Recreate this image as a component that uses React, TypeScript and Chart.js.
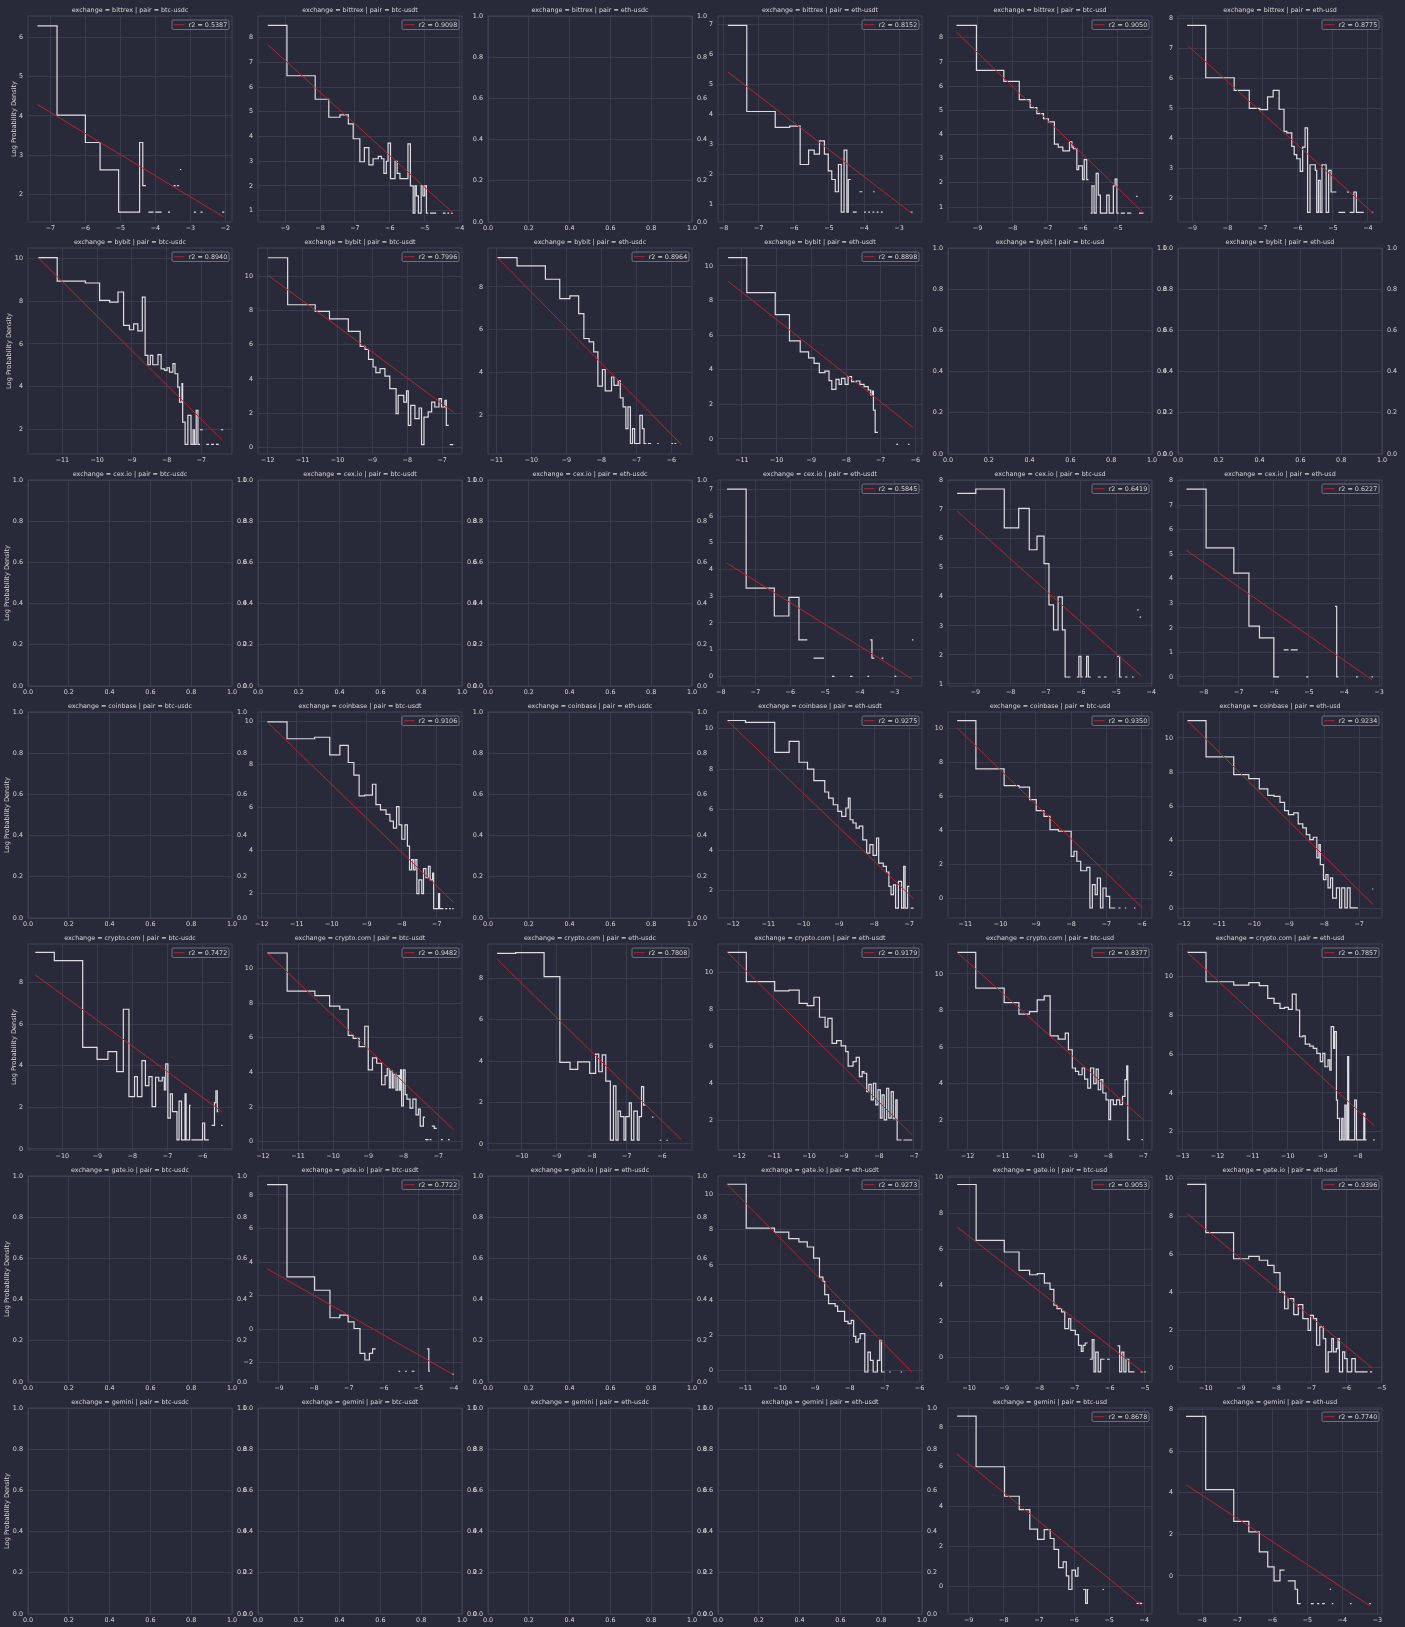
import React, { useEffect, useRef } from "react";
import { Chart, registerables } from "chart.js";

Chart.register(...registerables);

// ---------------- categories ----------------
const EXCHANGES = ["bittrex", "bybit", "cex.io", "coinbase", "crypto.com", "gate.io", "gemini"];
const PAIRS = ["btc-usdc", "btc-usdt", "eth-usdc", "eth-usdt", "btc-usd", "eth-usd"];
const EMPTY_TICKS = [0, 0.2, 0.4, 0.6, 0.8, 1.0];
const Y_LABEL = "Log Probability Density";

// ---------------- step histograms: runs of [x0, y0, x1, y1, ..., xEnd] ----------------
// fit lines: [x1, y1, x2, y2]
const BITTREX_BTC_USDC = [
  [-7.37, 6.3, -6.81, 4.02, -6.0, 3.32, -5.58, 2.62, -5.05, 1.54, -4.45, 3.32, -4.36, 2.22, -4.27],
  [-4.2, 1.54, -4.05], [-4.0, 1.54, -3.82], [-3.64, 1.54, -3.58], [-3.48, 2.22, -3.42],
  [-3.38, 2.22, -3.32], [-3.3, 2.63, -3.26], [-2.9, 1.54, -2.84], [-2.71, 1.54, -2.65], [-2.09, 1.54, -2.03],
];
const BITTREX_BTC_USDC_FIT = [-7.37, 4.29, -2.05, 1.42];

const BITTREX_BTC_USDT = [
  [-9.5, 8.5, -8.95, 6.46, -8.14, 5.51, -7.75, 4.78, -7.43, 4.88, -7.19, 4.51, -7.05, 3.91, -6.86, 2.98,
   -6.73, 3.55, -6.6, 2.85, -6.48, 3.1, -6.33, 3.2, -6.24, 3.1, -6.17, 2.51, -6.1, 3.0, -6.05, 3.73,
   -5.98, 2.3, -5.85, 3.0, -5.79, 2.51, -5.71, 2.3, -5.48, 3.7, -5.41, 2.0, -5.33, 0.9, -5.28, 2.0,
   -5.24, 1.6, -5.18, 0.9, -5.1, 2.0, -5.05, 1.6, -5.0, 2.0, -4.95, 0.9, -4.9],
  [-4.85, 0.9, -4.67], [-4.48, 0.9, -4.4], [-4.35, 0.9, -4.3], [-4.24, 0.9, -4.19],
];
const BITTREX_BTC_USDT_FIT = [-9.5, 7.72, -4.19, 0.91];

const BITTREX_ETH_USDT = [
  [-7.88, 6.97, -7.34, 4.09, -6.53, 3.56, -6.12, 3.6, -5.82, 2.32, -5.58, 2.8, -5.42, 2.67, -5.27, 3.11,
   -5.13, 2.67, -5.02, 2.11, -4.92, 1.82, -4.82, 1.41, -4.73, 2.32, -4.65, 0.73, -4.57, 2.8, -4.49, 0.73,
   -4.45, 1.82, -4.38],
  [-4.32, 0.73, -4.21], [-4.13, 1.41, -4.05], [-4.0, 0.73, -3.95], [-3.88, 0.73, -3.83],
  [-3.76, 0.73, -3.71], [-3.74, 1.41, -3.7], [-3.64, 0.73, -3.59], [-3.52, 0.73, -3.47], [-2.67, 0.73, -2.62],
];
const BITTREX_ETH_USDT_FIT = [-7.88, 5.41, -2.62, 0.67];

const BITTREX_BTC_USD = [
  [-9.6, 8.51, -9.03, 6.65, -8.25, 6.2, -7.81, 5.44, -7.5, 5.11, -7.31, 4.86, -7.12, 4.65, -6.98, 4.52,
   -6.81, 3.6, -6.7, 3.48, -6.57, 3.32, -6.38, 3.7, -6.31, 3.48, -6.27, 3.41, -6.17, 2.55, -6.12, 2.7,
   -6.01, 2.13, -5.96, 2.96, -5.89, 2.13, -5.84],
  [-5.78, 0.75, -5.74, 1.87, -5.68, 0.75, -5.62, 2.39, -5.56, 1.49, -5.5, 0.75, -5.32, 1.49, -5.25, 0.75,
   -5.13, 1.87, -5.08, 2.15, -5.03, 0.75, -4.98],
  [-4.92, 0.75, -4.8], [-4.74, 0.75, -4.62], [-4.48, 1.44, -4.44], [-4.4, 0.75, -4.27],
];
const BITTREX_BTC_USD_FIT = [-9.6, 8.23, -4.27, 0.75];

const BITTREX_ETH_USD = [
  [-9.15, 7.78, -8.62, 6.03, -7.81, 5.61, -7.38, 5.01, -7.08, 4.97, -6.86, 5.39, -6.7, 5.61, -6.53, 4.98,
   -6.39, 4.24, -6.31, 4.19, -6.17, 3.74, -6.1, 3.47, -6.03, 3.33, -5.93, 2.91, -5.86, 3.72, -5.79, 4.36,
   -5.72, 1.54, -5.65, 3.13, -5.5, 2.94, -5.46, 1.54, -5.41, 2.61, -5.36, 1.54, -5.31, 3.13, -5.19, 1.54,
   -5.12, 2.94, -5.05, 2.22, -4.9],
  [-4.84, 1.54, -4.65], [-4.6, 2.22, -4.54], [-4.52, 1.54, -4.4, 2.22, -4.33, 1.54, -4.12], [-3.89, 1.54, -3.85],
];
const BITTREX_ETH_USD_FIT = [-9.12, 7.09, -3.86, 1.52];

const BYBIT_BTC_USDC = [
  [-11.7, 10.02, -11.15, 8.93, -10.34, 8.84, -9.93, 8.03, -9.64, 7.95, -9.4, 8.42, -9.24, 6.86, -9.07, 6.66,
   -8.95, 6.93, -8.83, 6.61, -8.7, 8.18, -8.62, 5.47, -8.54, 5.03, -8.47, 5.47, -8.4, 5.03, -8.25, 5.5,
   -8.16, 4.84, -8.06, 4.77, -7.99, 4.89, -7.92, 4.69, -7.82, 5.08, -7.76, 4.61, -7.68, 3.99, -7.63, 3.29,
   -7.56, 4.15, -7.54, 2.36, -7.47, 1.32, -7.39, 2.67, -7.3, 1.32, -7.24, 2.0, -7.2, 1.32, -7.15, 2.9,
   -7.1, 1.32, -7.04],
  [-7.04, 2.0, -6.96], [-6.86, 1.32, -6.78], [-6.72, 1.32, -6.64], [-6.58, 1.32, -6.5], [-6.44, 2.0, -6.37],
];
const BYBIT_BTC_USDC_FIT = [-11.7, 10.02, -6.41, 1.54];

const BYBIT_BTC_USDT = [
  [-11.99, 11.09, -11.43, 8.34, -10.64, 7.95, -10.23, 7.52, -9.69, 6.78, -9.35, 5.91, -9.21, 5.73, -9.11, 5.15,
   -8.98, 4.7, -8.9, 4.37, -8.78, 4.6, -8.64, 4.17, -8.5, 3.43, -8.32, 1.97, -8.26, 3.04, -8.1, 2.65,
   -8.02, 3.3, -7.97, 1.29, -7.9, 2.46, -7.78, 1.68, -7.66, 2.3, -7.59, 0.16, -7.52, 1.77, -7.4, 2.07,
   -7.3, 2.65, -7.21, 2.36, -7.09, 2.85, -7.02, 2.36, -6.92, 2.75, -6.88, 1.29, -6.81],
  [-6.78, 0.16, -6.68],
];
const BYBIT_BTC_USDT_FIT = [-11.99, 10.06, -6.68, 2.07];

const BYBIT_ETH_USDC = [
  [-10.97, 9.37, -10.41, 8.98, -9.6, 8.36, -9.19, 7.45, -8.9, 7.58, -8.65, 6.75, -8.5, 5.59, -8.35, 5.43,
   -8.22, 4.96, -8.1, 3.36, -7.97, 4.14, -7.89, 3.14, -7.71, 3.79, -7.64, 3.4, -7.52, 3.61, -7.46, 2.81,
   -7.38, 2.39, -7.3, 1.38, -7.24, 2.39, -7.17, 0.68, -7.11, 1.38, -7.05, 0.68, -6.9, 2.0, -6.83, 1.38,
   -6.78, 0.68, -6.71],
  [-6.67, 0.68, -6.58], [-6.4, 0.68, -6.36], [-6.0, 0.68, -5.95], [-5.91, 0.68, -5.86],
];
const BYBIT_ETH_USDC_FIT = [-10.97, 9.37, -5.71, 0.63];

const BYBIT_ETH_USDT = [
  [-11.4, 10.48, -10.86, 8.46, -10.04, 7.19, -9.63, 5.67, -9.32, 5.04, -9.08, 4.69, -8.92, 4.37, -8.77, 3.83,
   -8.61, 3.92, -8.49, 3.37, -8.41, 2.87, -8.29, 3.44, -8.2, 3.15, -8.13, 3.5, -8.03, 3.15, -7.94, 3.6,
   -7.84, 3.31, -7.7, 3.35, -7.6, 3.15, -7.48, 3.02, -7.36, 2.83, -7.29, 2.54, -7.24, 2.77, -7.21, 1.67,
   -7.16, 0.38, -7.08],
  [-6.55, -0.31, -6.5], [-6.21, -0.31, -6.17],
];
const BYBIT_ETH_USDT_FIT = [-11.4, 9.12, -6.07, 0.67];

const CEXIO_ETH_USDT = [
  [-7.82, 7.01, -7.27, 3.3, -6.46, 2.26, -6.04, 2.96, -5.75, 1.37, -5.51],
  [-5.33, 0.68, -5.03], [-4.8, 0.0, -4.73], [-4.28, 0.0, -4.21], [-3.78, 0.0, -3.73],
  [-3.7, 1.37, -3.65, 0.68, -3.58], [-3.37, 0.68, -3.32], [-3.0, 0.0, -2.95], [-2.5, 1.37, -2.46],
];
const CEXIO_ETH_USDT_FIT = [-7.82, 4.24, -2.5, -0.09];

const CEXIO_BTC_USD = [
  [-9.52, 7.56, -8.99, 7.71, -8.18, 6.37, -7.77, 7.04, -7.47, 5.62, -7.25, 6.09, -7.05, 5.14, -6.91, 3.72,
   -6.78, 2.86, -6.65, 4.0, -6.53, 2.86, -6.45, 1.24, -6.3],
  [-6.12, 1.24, -6.06, 1.95, -6.0, 1.24, -5.95], [-5.88, 1.24, -5.84, 1.95, -5.79, 1.24, -5.72],
  [-5.52, 1.24, -5.44], [-5.35, 1.24, -5.27], [-4.97, 1.95, -4.9, 1.24, -4.84], [-4.74, 1.24, -4.68],
  [-4.55, 1.24, -4.5], [-4.4, 3.55, -4.36], [-4.33, 3.3, -4.29],
];
const CEXIO_BTC_USD_FIT = [-9.52, 6.95, -4.29, 1.28];

const CEXIO_ETH_USD = [
  [-8.49, 7.66, -7.93, 5.26, -7.14, 4.23, -6.71, 2.07, -6.41, 1.59, -6.0, 0.0, -5.85],
  [-5.72, 1.1, -5.58], [-5.52, 1.1, -5.32], [-5.08, 0.0, -5.02], [-4.26, 2.88, -4.21, 0.0, -4.16],
  [-3.66, 0.0, -3.61], [-3.22, 0.0, -3.18],
];
const CEXIO_ETH_USD_FIT = [-8.49, 5.16, -3.2, -0.12];

const COINBASE_BTC_USDT = [
  [-11.85, 9.96, -11.28, 9.18, -10.49, 9.25, -10.06, 8.43, -9.77, 8.87, -9.53, 8.08, -9.37, 7.49, -9.22, 6.53,
   -9.06, 6.57, -8.84, 7.07, -8.74, 6.13, -8.61, 5.88, -8.45, 5.67, -8.34, 5.36, -8.24, 5.04, -8.15, 6.03,
   -8.08, 5.19, -8.0, 4.52, -7.91, 5.19, -7.84, 4.2, -7.78, 3.1, -7.72, 3.58, -7.67, 3.1, -7.62, 3.58,
   -7.57, 2.0, -7.51, 2.64, -7.43, 2.0, -7.38, 3.16, -7.31, 2.74, -7.24, 3.26, -7.19, 2.64, -7.12, 2.95,
   -7.09, 1.3, -6.95, 2.0, -6.92, 1.3, -6.81],
  [-6.76, 1.3, -6.7], [-6.65, 1.3, -6.6], [-6.56, 1.3, -6.52],
];
const COINBASE_BTC_USDT_FIT = [-11.85, 9.96, -6.52, 1.59];

const COINBASE_ETH_USDT = [
  [-12.17, 10.4, -11.65, 10.31, -10.82, 8.83, -10.41, 9.37, -10.13, 8.34, -9.89, 8.0, -9.71, 7.43, -9.4, 6.87,
   -9.29, 6.57, -9.16, 6.24, -9.03, 5.91, -8.92, 5.67, -8.8, 6.08, -8.73, 6.57, -8.68, 5.5, -8.6, 5.34,
   -8.51, 5.09, -8.42, 5.19, -8.32, 4.51, -8.21, 3.85, -8.12, 4.27, -8.03, 3.74, -7.93, 4.6, -7.87, 3.36,
   -7.74, 3.2, -7.65, 2.92, -7.58, 2.21, -7.52, 1.8, -7.45, 2.29, -7.39, 1.14, -7.31, 2.46, -7.22, 1.14,
   -7.16, 3.2, -7.12, 1.14, -7.05, 2.21, -7.0],
  [-6.96, 1.14, -6.88],
];
const COINBASE_ETH_USDT_FIT = [-12.17, 10.4, -6.88, 1.6];

const COINBASE_BTC_USD = [
  [-11.23, 10.47, -10.7, 7.62, -9.9, 6.63, -9.48, 6.54, -9.18, 5.81, -8.99, 5.16, -8.77, 4.82, -8.6, 4.04,
   -8.36, 3.94, -8.0, 2.46, -7.92, 2.76, -7.84, 2.17, -7.73, 1.61, -7.56, 1.81, -7.47, -0.59, -7.4, 0.79,
   -7.32, 0.2, -7.26, 1.18, -7.17, -0.59, -7.1, 0.59, -7.01, 0.1, -6.91, -0.59, -6.75],
  [-6.66, -0.59, -6.6], [-6.48, -0.59, -6.44], [-6.22, -0.59, -6.18],
];
const COINBASE_BTC_USD_FIT = [-11.23, 10.04, -5.98, -0.59];

const COINBASE_ETH_USD = [
  [-11.91, 11.02, -11.37, 8.89, -10.58, 7.85, -10.15, 7.62, -9.85, 7.01, -9.61, 6.64, -9.43, 6.58, -9.26, 6.23,
   -9.13, 5.74, -9.02, 5.51, -8.87, 5.61, -8.74, 4.96, -8.61, 4.73, -8.51, 4.34, -8.41, 4.04, -8.31, 4.18,
   -8.21, 2.97, -8.15, 3.75, -8.11, 2.58, -8.02, 1.7, -7.95, 1.99, -7.89, 1.21, -7.82, 1.8, -7.76, 0.62,
   -7.65, 1.21, -7.56, 0.04, -7.5, 1.21, -7.41, 0.04, -7.34, 1.21, -7.26, 0.04, -7.04],
  [-6.63, 1.15, -6.6],
];
const COINBASE_ETH_USD_FIT = [-11.91, 11.02, -6.6, 0.23];

const CRYPTO_BTC_USDC = [
  [-10.77, 9.46, -10.23, 9.06, -9.42, 4.89, -9.01, 4.31, -8.7, 4.68, -8.45, 3.72, -8.26, 6.72, -8.1, 2.52,
   -7.94, 3.48, -7.86, 2.52, -7.73, 4.25, -7.63, 3.05, -7.53, 3.48, -7.44, 2.04, -7.34, 3.45, -7.25, 3.27,
   -7.15, 3.45, -7.09, 2.84, -7.05, 4.09, -6.99, 1.48, -6.92, 2.65, -6.86, 1.8, -6.73, 0.44, -6.67, 2.3,
   -6.6, 0.44, -6.5, 2.65, -6.47, 0.44, -6.37, 2.1, -6.34],
  [-6.32, 0.44, -6.0, 1.25, -5.94, 0.44, -5.82],
  [-5.74, 1.13, -5.66, 2.23, -5.62, 2.8, -5.58, 1.8, -5.55], [-5.47, 1.13, -5.43],
];
const CRYPTO_BTC_USDC_FIT = [-10.77, 8.37, -5.45, 1.8];

const CRYPTO_BTC_USDT = [
  [-11.88, 10.88, -11.31, 8.68, -10.52, 8.42, -10.1, 7.82, -9.81, 7.64, -9.57, 6.14, -9.43, 5.96, -9.26, 5.49,
   -9.1, 6.66, -9.0, 4.15, -8.88, 4.84, -8.76, 4.53, -8.62, 3.29, -8.52, 3.81, -8.46, 4.22, -8.4, 3.11,
   -8.36, 4.07, -8.31, 3.11, -8.27, 3.89, -8.21, 2.98, -8.16, 3.81, -8.11, 2.98, -8.08, 4.15, -8.05, 2.07,
   -8.0, 4.15, -7.95, 2.72, -7.9, 2.46, -7.81, 1.94, -7.73, 2.46, -7.64, 1.55, -7.57, 1.89, -7.52, 0.91,
   -7.43, 1.42, -7.38],
  [-7.38, 0.13, -7.28], [-7.25, 0.13, -7.2], [-7.19, 0.91, -7.12, 0.78, -7.05], [-6.93, 0.13, -6.88],
  [-6.73, 0.13, -6.68],
];
const CRYPTO_BTC_USDT_FIT = [-11.88, 10.88, -6.57, 0.7];

const CRYPTO_ETH_USDC = [
  [-10.7, 9.21, -10.17, 9.24, -9.36, 8.08, -8.91, 3.94, -8.62, 3.6, -8.4, 3.97, -8.06, 3.41, -7.89, 4.34,
   -7.8, 3.49, -7.7, 4.3, -7.6, 3.04, -7.47, 0.19, -7.38, 2.81, -7.31, 0.19, -7.25, 1.59, -7.18, 1.32,
   -7.08, 0.19, -7.03, 1.32, -6.93, 1.99, -6.87, 0.19, -6.8, 1.59, -6.7, 0.19, -6.65, 1.32, -6.58, 2.77,
   -6.52, 1.88, -6.47],
  [-6.28, 1.3, -6.24], [-6.06, 0.18, -6.02], [-5.87, 0.18, -5.83],
];
const CRYPTO_ETH_USDC_FIT = [-10.7, 8.92, -5.45, 0.22];

const CRYPTO_ETH_USDT = [
  [-12.33, 11.1, -11.79, 9.51, -10.98, 9.01, -10.57, 9.06, -10.28, 8.34, -10.05, 8.22, -9.86, 8.67, -9.7, 7.59,
   -9.54, 7.05, -9.46, 7.53, -9.34, 6.18, -9.21, 6.32, -9.08, 6.04, -8.95, 5.73, -8.88, 4.95, -8.74, 5.19,
   -8.65, 5.42, -8.56, 4.38, -8.48, 4.65, -8.43, 4.56, -8.35, 3.57, -8.29, 3.96, -8.22, 3.12, -8.16, 4.02,
   -8.09, 2.85, -8.03, 3.66, -7.96, 2.13, -7.91, 3.39, -7.85, 2.04, -7.78, 3.75, -7.72, 2.13, -7.65, 3.57,
   -7.59, 2.1, -7.52, 3.12, -7.48, 0.95, -7.35],
  [-7.3, 0.95, -7.05],
];
const CRYPTO_ETH_USDT_FIT = [-12.33, 11.1, -7.05, 1.23];

const CRYPTO_BTC_USD = [
  [-12.3, 11.18, -11.77, 9.22, -10.96, 8.43, -10.54, 7.8, -10.24, 7.94, -10.02, 8.58, -9.82, 8.8, -9.65, 6.61,
   -9.42, 6.43, -9.22, 6.76, -9.13, 5.85, -9.02, 4.85, -8.93, 4.66, -8.84, 4.48, -8.74, 4.85, -8.67, 4.24,
   -8.58, 3.75, -8.5, 4.85, -8.41, 3.99, -8.34, 4.79, -8.28, 3.66, -8.21, 4.21, -8.15, 3.48, -8.06, 3.11,
   -7.98, 2.02, -7.93, 3.11, -7.85, 2.84, -7.76, 3.11, -7.67, 2.84, -7.59, 3.3, -7.52, 4.21, -7.47, 4.97,
   -7.44, 0.93, -7.37],
  [-7.05, 0.93, -7.01],
];
const CRYPTO_BTC_USD_FIT = [-12.3, 11.18, -7.0, 2.02];

const CRYPTO_ETH_USD = [
  [-12.87, 11.26, -12.33, 9.74, -11.54, 9.57, -11.11, 9.69, -10.81, 9.54, -10.57, 8.88, -10.39, 8.62, -10.22, 8.36,
   -10.09, 8.42, -9.98, 8.31, -9.87, 9.1, -9.76, 8.28, -9.66, 6.9, -9.57, 6.94, -9.5, 6.52, -9.37, 6.42,
   -9.27, 6.3, -9.17, 6.04, -9.07, 5.61, -9.0, 6.04, -8.94, 5.35, -8.85, 5.7, -8.8, 5.18, -8.76, 7.42,
   -8.69, 6.3, -8.66, 7.16, -8.61, 3.63, -8.58, 2.68, -8.52, 1.57, -8.46, 2.68, -8.42, 1.57, -8.37, 3.37,
   -8.33, 1.57, -8.29, 5.87, -8.26, 1.57, -8.09, 3.63, -8.04, 1.57, -7.83, 2.94, -7.8, 1.57, -7.75],
  [-7.56, 1.57, -7.52],
];
const CRYPTO_ETH_USD_FIT = [-12.87, 11.26, -7.52, 2.29];

const GATEIO_BTC_USDT = [
  [-9.34, 8.62, -8.77, 3.12, -7.98, 2.32, -7.54, 0.68, -7.26, 0.84, -7.02, 0.44, -6.85, 0.04, -6.68, -1.44,
   -6.54, -1.84, -6.41, -1.44, -6.32, -1.17, -6.23],
  [-5.58, -2.51, -5.53], [-5.39, -2.51, -5.34], [-5.2, -2.51, -5.12], [-4.76, -1.17, -4.71, -2.51, -4.68],
  [-4.04, -2.7, -4.0],
];
const GATEIO_BTC_USDT_FIT = [-9.34, 3.6, -4.02, -2.7];

const GATEIO_ETH_USDT = [
  [-11.52, 10.59, -10.97, 8.1, -10.16, 7.87, -9.75, 7.5, -9.46, 7.31, -9.22, 7.02, -9.04, 6.39, -8.87, 5.31,
   -8.77, 5.07, -8.72, 4.31, -8.61, 3.8, -8.42, 3.66, -8.35, 3.36, -8.15, 2.79, -8.05, 2.66, -7.96, 2.85,
   -7.89, 1.94, -7.83, 1.61, -7.76, 1.8, -7.7, 2.09, -7.57, -0.09, -7.48, 1.04, -7.41, 0.57, -7.33, -0.09,
   -7.21, 0.57, -7.14, 1.71, -7.09, -0.09, -7.0],
  [-6.87, -0.09, -6.83], [-6.54, -0.09, -6.5],
];
const GATEIO_ETH_USDT_FIT = [-11.52, 10.59, -6.22, -0.09];

const GATEIO_BTC_USD = [
  [-10.34, 9.59, -9.8, 6.49, -9.0, 5.85, -8.58, 4.83, -8.28, 4.59, -8.06, 4.65, -7.86, 4.13, -7.7, 3.78,
   -7.59, 2.9, -7.5, 2.71, -7.37, 2.53, -7.28, 1.61, -7.17, 2.16, -7.11, 1.51, -6.98, 1.27, -6.89, 0.68,
   -6.81, 0.35, -6.76, 0.68, -6.7, 0.81, -6.63],
  [-6.57, -0.09, -6.5, 1.0, -6.45, -0.79, -6.4, 0.31, -6.33, -0.79, -6.26, -0.09, -6.15],
  [-6.08, -0.09, -6.0],
  [-5.78, 0.65, -5.72, -0.79, -5.66, 0.31, -5.6, -0.79, -5.54, -0.09, -5.46, -0.79, -5.3],
  [-5.12, -0.79, -5.06], [-5.02, -0.79, -4.98],
];
const GATEIO_BTC_USD_FIT = [-10.34, 7.23, -5.04, -0.83];

const GATEIO_ETH_USD = [
  [-10.53, 9.7, -10.0, 7.15, -9.21, 5.77, -8.78, 5.9, -8.48, 5.69, -8.24, 5.42, -8.06, 5.04, -7.89, 4.01,
   -7.76, 3.13, -7.66, 3.66, -7.5, 2.82, -7.37, 3.35, -7.24, 2.61, -7.09, 1.99, -7.02, 2.78, -6.94, 2.61,
   -6.85, 1.2, -6.76, 2.17, -6.66, 1.55, -6.59, -0.21, -6.52, 0.85, -6.42, 1.55, -6.37, 0.85, -6.29, 1.02,
   -6.24, 1.55, -6.2, -0.21, -6.11, 0.85, -6.05, 0.49, -5.98, -0.21, -5.85, 0.49, -5.75, -0.21, -5.6],
  [-5.6, -0.21, -5.4], [-5.33, -0.21, -5.27],
];
const GATEIO_ETH_USD_FIT = [-10.53, 8.15, -5.27, 0.0];

const GEMINI_BTC_USD = [
  [-9.33, 8.54, -8.79, 6.0, -7.98, 4.52, -7.56, 3.85, -7.26, 2.87, -7.04, 2.36, -6.85, 2.85, -6.68, 2.4,
   -6.57, 1.85, -6.44, 0.94, -6.31, 1.23, -6.22, 0.52, -6.15, -0.16, -6.06, 0.81, -5.96, 0.51, -5.89, 0.93,
   -5.86],
  [-5.74, -0.16, -5.67, -0.86, -5.62, -0.16, -5.59], [-5.19, -0.16, -5.15], [-4.22, -0.86, -4.06],
];
const GEMINI_BTC_USD_FIT = [-9.33, 6.63, -4.06, -0.98];

const GEMINI_ETH_USD = [
  [-8.46, 7.68, -7.9, 4.15, -7.1, 2.63, -6.67, 2.12, -6.37, 1.16, -6.13, 0.44, -5.95, -0.24, -5.78, 0.28, -5.65],
  [-5.56, -0.24, -5.35, -0.64, -5.28, -1.33, -5.19],
  [-4.9, -1.33, -4.82], [-4.72, -1.33, -4.66], [-4.58, -1.33, -4.5], [-4.36, -0.64, -4.32],
  [-4.3, -1.33, -4.26], [-3.78, -1.33, -3.74], [-3.23, -1.33, -3.19],
];
const GEMINI_ETH_USD_FIT = [-8.46, 4.39, -3.21, -1.44];

// ---------------- panel table (axis ranges + tick labels per facet) ----------------
type Spec = {
  ex: string; pair: string; steps: number[][]; fit: number[]; r2: string;
  xr: number[]; yr: number[]; xt: number[]; yt: number[];
};

const PANELS: Spec[] = [
  { ex: "bittrex", pair: "btc-usdc", steps: BITTREX_BTC_USDC, fit: BITTREX_BTC_USDC_FIT, r2: "0.5387", xr: [-7.64, -1.81], yr: [1.29, 6.55], xt: [-7, -6, -5, -4, -3, -2], yt: [2, 3, 4, 5, 6] },
  { ex: "bittrex", pair: "btc-usdt", steps: BITTREX_BTC_USDT, fit: BITTREX_BTC_USDT_FIT, r2: "0.9098", xr: [-9.78, -3.93], yr: [0.54, 8.88], xt: [-9, -8, -7, -6, -5, -4], yt: [1, 2, 3, 4, 5, 6, 7, 8] },
  { ex: "bittrex", pair: "eth-usdt", steps: BITTREX_ETH_USDT, fit: BITTREX_ETH_USDT_FIT, r2: "0.8152", xr: [-8.16, -2.35], yr: [0.4, 7.28], xt: [-8, -7, -6, -5, -4, -3], yt: [1, 2, 3, 4, 5, 6, 7] },
  { ex: "bittrex", pair: "btc-usd", steps: BITTREX_BTC_USD, fit: BITTREX_BTC_USD_FIT, r2: "0.9050", xr: [-9.84, -4.03], yr: [0.38, 8.9], xt: [-9, -8, -7, -6, -5], yt: [1, 2, 3, 4, 5, 6, 7, 8] },
  { ex: "bittrex", pair: "eth-usd", steps: BITTREX_ETH_USD, fit: BITTREX_ETH_USD_FIT, r2: "0.8775", xr: [-9.41, -3.6], yr: [1.22, 8.09], xt: [-9, -8, -7, -6, -5, -4], yt: [2, 3, 4, 5, 6, 7, 8] },
  { ex: "bybit", pair: "btc-usdc", steps: BYBIT_BTC_USDC, fit: BYBIT_BTC_USDC_FIT, r2: "0.8940", xr: [-11.99, -6.12], yr: [0.87, 10.47], xt: [-11, -10, -9, -8, -7], yt: [2, 4, 6, 8, 10] },
  { ex: "bybit", pair: "btc-usdt", steps: BYBIT_BTC_USDT, fit: BYBIT_BTC_USDT_FIT, r2: "0.7996", xr: [-12.28, -6.43], yr: [-0.39, 11.66], xt: [-12, -11, -10, -9, -8, -7], yt: [0, 2, 4, 6, 8, 10] },
  { ex: "bybit", pair: "eth-usdc", steps: BYBIT_ETH_USDC, fit: BYBIT_ETH_USDC_FIT, r2: "0.8964", xr: [-11.24, -5.41], yr: [0.19, 9.82], xt: [-11, -10, -9, -8, -7, -6], yt: [2, 4, 6, 8] },
  { ex: "bybit", pair: "eth-usdt", steps: BYBIT_ETH_USDT, fit: BYBIT_ETH_USDT_FIT, r2: "0.8898", xr: [-11.69, -5.81], yr: [-0.87, 11.04], xt: [-11, -10, -9, -8, -7, -6], yt: [0, 2, 4, 6, 8, 10] },
  { ex: "cex.io", pair: "eth-usdt", steps: CEXIO_ETH_USDT, fit: CEXIO_ETH_USDT_FIT, r2: "0.5845", xr: [-8.08, -2.21], yr: [-0.36, 7.35], xt: [-8, -7, -6, -5, -4, -3], yt: [0, 1, 2, 3, 4, 5, 6, 7] },
  { ex: "cex.io", pair: "btc-usd", steps: CEXIO_BTC_USD, fit: CEXIO_BTC_USD_FIT, r2: "0.6419", xr: [-9.78, -3.98], yr: [0.93, 8.02], xt: [-9, -8, -7, -6, -5, -4], yt: [1, 2, 3, 4, 5, 6, 7, 8] },
  { ex: "cex.io", pair: "eth-usd", steps: CEXIO_ETH_USD, fit: CEXIO_ETH_USD_FIT, r2: "0.6227", xr: [-8.73, -2.92], yr: [-0.37, 8.03], xt: [-8, -7, -6, -5, -4, -3], yt: [0, 1, 2, 3, 4, 5, 6, 7, 8] },
  { ex: "coinbase", pair: "btc-usdt", steps: COINBASE_BTC_USDT, fit: COINBASE_BTC_USDT_FIT, r2: "0.9106", xr: [-12.11, -6.28], yr: [0.87, 10.42], xt: [-12, -11, -10, -9, -8, -7], yt: [2, 4, 6, 8, 10] },
  { ex: "coinbase", pair: "eth-usdt", steps: COINBASE_ETH_USDT, fit: COINBASE_ETH_USDT_FIT, r2: "0.9275", xr: [-12.43, -6.64], yr: [0.65, 10.82], xt: [-12, -11, -10, -9, -8, -7], yt: [2, 4, 6, 8, 10] },
  { ex: "coinbase", pair: "btc-usd", steps: COINBASE_BTC_USD, fit: COINBASE_BTC_USD_FIT, r2: "0.9350", xr: [-11.49, -5.71], yr: [-1.18, 10.98], xt: [-11, -10, -9, -8, -7, -6], yt: [0, 2, 4, 6, 8, 10] },
  { ex: "coinbase", pair: "eth-usd", steps: COINBASE_ETH_USD, fit: COINBASE_ETH_USD_FIT, r2: "0.9234", xr: [-12.17, -6.35], yr: [-0.55, 11.52], xt: [-12, -11, -10, -9, -8, -7], yt: [0, 2, 4, 6, 8, 10] },
  { ex: "crypto.com", pair: "btc-usdc", steps: CRYPTO_BTC_USDC, fit: CRYPTO_BTC_USDC_FIT, r2: "0.7472", xr: [-10.98, -5.16], yr: [-0.05, 9.86], xt: [-10, -9, -8, -7, -6], yt: [0, 2, 4, 6, 8] },
  { ex: "crypto.com", pair: "btc-usdt", steps: CRYPTO_BTC_USDT, fit: CRYPTO_BTC_USDT_FIT, r2: "0.9482", xr: [-12.14, -6.33], yr: [-0.47, 11.4], xt: [-12, -11, -10, -9, -8, -7], yt: [0, 2, 4, 6, 8, 10] },
  { ex: "crypto.com", pair: "eth-usdc", steps: CRYPTO_ETH_USDC, fit: CRYPTO_ETH_USDC_FIT, r2: "0.7808", xr: [-10.96, -5.14], yr: [-0.29, 9.66], xt: [-10, -9, -8, -7, -6], yt: [0, 2, 4, 6, 8] },
  { ex: "crypto.com", pair: "eth-usdt", steps: CRYPTO_ETH_USDT, fit: CRYPTO_ETH_USDT_FIT, r2: "0.9179", xr: [-12.6, -6.77], yr: [0.41, 11.55], xt: [-12, -11, -10, -9, -8, -7], yt: [2, 4, 6, 8, 10] },
  { ex: "crypto.com", pair: "btc-usd", steps: CRYPTO_BTC_USD, fit: CRYPTO_BTC_USD_FIT, r2: "0.8377", xr: [-12.56, -6.75], yr: [0.36, 11.64], xt: [-12, -11, -10, -9, -8, -7], yt: [2, 4, 6, 8, 10] },
  { ex: "crypto.com", pair: "eth-usd", steps: CRYPTO_ETH_USD, fit: CRYPTO_ETH_USD_FIT, r2: "0.7857", xr: [-13.13, -7.31], yr: [1.05, 11.69], xt: [-13, -12, -11, -10, -9, -8], yt: [2, 4, 6, 8, 10] },
  { ex: "gate.io", pair: "btc-usdt", steps: GATEIO_BTC_USDT, fit: GATEIO_BTC_USDT_FIT, r2: "0.7722", xr: [-9.6, -3.76], yr: [-3.15, 9.13], xt: [-9, -8, -7, -6, -5, -4], yt: [-2, 0, 2, 4, 6, 8] },
  { ex: "gate.io", pair: "eth-usdt", steps: GATEIO_ETH_USDT, fit: GATEIO_ETH_USDT_FIT, r2: "0.9273", xr: [-11.78, -5.93], yr: [-0.66, 11.06], xt: [-11, -10, -9, -8, -7, -6], yt: [0, 2, 4, 6, 8, 10] },
  { ex: "gate.io", pair: "btc-usd", steps: GATEIO_BTC_USD, fit: GATEIO_BTC_USD_FIT, r2: "0.9053", xr: [-10.6, -4.8], yr: [-1.35, 10.06], xt: [-10, -9, -8, -7, -6, -5], yt: [0, 2, 4, 6, 8, 10] },
  { ex: "gate.io", pair: "eth-usd", steps: GATEIO_ETH_USD, fit: GATEIO_ETH_USD_FIT, r2: "0.9396", xr: [-10.79, -4.99], yr: [-0.74, 10.14], xt: [-10, -9, -8, -7, -6, -5], yt: [0, 2, 4, 6, 8, 10] },
  { ex: "gemini", pair: "btc-usd", steps: GEMINI_BTC_USD, fit: GEMINI_BTC_USD_FIT, r2: "0.8678", xr: [-9.59, -3.78], yr: [-1.39, 8.95], xt: [-9, -8, -7, -6, -5, -4], yt: [0, 2, 4, 6, 8] },
  { ex: "gemini", pair: "eth-usd", steps: GEMINI_ETH_USD, fit: GEMINI_ETH_USD_FIT, r2: "0.7740", xr: [-8.69, -2.87], yr: [-1.83, 8.08], xt: [-8, -7, -6, -5, -4, -3], yt: [0, 2, 4, 6, 8] },
];

// ---------------- style ----------------
const BG = "#282a3a";
const GRID = "#3d4053";
const SPINE = "#45485b";
const TEXT = "#d6d6d6";
const HIST = "rgba(235,235,240,0.92)";
const RED = "#b8222c";
const FONT = "DejaVu Sans";
const FS = 6.4;

const PLOT_LEFT0 = 28;
const PLOT_TOP0 = 16;
const COL_STEP = 230;
const ROW_STEP = 232;
const PLOT_W = 204;
const PLOT_H = 206;
const PAD_L = 30;
const PAD_T = 18;
const PAD_R = 28;
const PAD_B = 16;
const CW = PAD_L + PLOT_W + PAD_R;
const CH = PAD_T + PLOT_H + PAD_B;

function runsToPoints(runs: number[][]) {
  const pts: { x: number; y: number | null }[] = [];
  for (const r of runs) {
    const n = Math.floor((r.length - 1) / 2);
    for (let i = 0; i < n; i++) pts.push({ x: r[2 * i], y: r[2 * i + 1] });
    const xe = r[2 * n];
    pts.push({ x: xe, y: r[2 * n - 1] });
    pts.push({ x: xe, y: null });
  }
  return pts;
}

function fmt(v: number, empty: boolean) {
  if (empty) return v.toFixed(1);
  const s = String(Math.abs(Math.round(v * 100) / 100));
  return v < 0 ? "\u2212" + s : s;
}

function Panel({ row, col }: { row: number; col: number }) {
  const ref = useRef<HTMLCanvasElement | null>(null);
  useEffect(() => {
    if (!ref.current) return;
    const ex = EXCHANGES[row];
    const pair = PAIRS[col];
    const spec = PANELS.find((p) => p.ex === ex && p.pair === pair);
    const empty = !spec;
    const title = `exchange = ${ex} | pair = ${pair}`;
    const xr = spec ? spec.xr : [0, 1];
    const yr = spec ? spec.yr : [0, 1];
    const xt = spec ? spec.xt : EMPTY_TICKS;
    const yt = spec ? spec.yt : EMPTY_TICKS;

    const tickFont = { family: FONT, size: FS };
    const scales: any = {
      x: {
        type: "linear",
        position: "bottom",
        min: xr[0],
        max: xr[1],
        afterBuildTicks: (s: any) => { s.ticks = xt.map((v) => ({ value: v })); },
        afterFit: (s: any) => { s.height = PAD_B; },
        ticks: { color: TEXT, font: tickFont, padding: 3, maxRotation: 0, minRotation: 0, autoSkip: false,
          callback: (v: any) => fmt(Number(v), empty) },
        grid: { color: GRID, lineWidth: 0.8, drawTicks: false },
        border: { display: false },
      },
      y: {
        type: "linear",
        position: "left",
        min: yr[0],
        max: yr[1],
        afterBuildTicks: (s: any) => { s.ticks = yt.map((v) => ({ value: v })); },
        afterFit: (s: any) => { s.width = PAD_L; },
        ticks: { color: TEXT, font: tickFont, padding: 5, autoSkip: false,
          callback: (v: any) => fmt(Number(v), empty) },
        grid: { color: GRID, lineWidth: 0.8, drawTicks: false },
        border: { display: false },
      },
    };
    if (empty) {
      scales.y2 = {
        type: "linear",
        position: "right",
        min: 0,
        max: 1,
        afterBuildTicks: (s: any) => { s.ticks = EMPTY_TICKS.map((v) => ({ value: v })); },
        afterFit: (s: any) => { s.width = PAD_R; },
        ticks: { color: TEXT, font: tickFont, padding: 5, autoSkip: false,
          callback: (v: any) => Number(v).toFixed(1) },
        grid: { display: false, drawTicks: false },
        border: { display: false },
      };
    }

    const datasets: any[] = [];
    if (spec) {
      datasets.push({
        data: [{ x: spec.fit[0], y: spec.fit[1] }, { x: spec.fit[2], y: spec.fit[3] }],
        borderColor: RED, borderWidth: 1, pointRadius: 0, fill: false, yAxisID: "y",
      });
      datasets.push({
        data: runsToPoints(spec.steps),
        borderColor: HIST, borderWidth: 1.2, pointRadius: 0, fill: false, stepped: true,
        spanGaps: false, yAxisID: "y", borderJoinStyle: "miter",
      });
    }

    const deco = {
      id: "deco",
      beforeDatasetsDraw(chart: any) {
        const a = chart.chartArea;
        const ctx = chart.ctx;
        ctx.save();
        ctx.strokeStyle = SPINE;
        ctx.lineWidth = 0.8;
        ctx.strokeRect(a.left, a.top, a.right - a.left, a.bottom - a.top);
        ctx.restore();
      },
      afterDraw(chart: any) {
        const a = chart.chartArea;
        const ctx = chart.ctx;
        ctx.save();
        ctx.fillStyle = TEXT;
        ctx.font = `${FS}px "${FONT}"`;
        ctx.textAlign = "center";
        ctx.textBaseline = "middle";
        ctx.fillText(title, (a.left + a.right) / 2, a.top - 5.5);
        if (col === 0) {
          let w = 0;
          for (const v of yt) w = Math.max(w, ctx.measureText(fmt(v, empty)).width);
          const cx = a.left - 5 - w - 1.8 - 3.3;
          ctx.save();
          ctx.translate(cx, (a.top + a.bottom) / 2);
          ctx.rotate(-Math.PI / 2);
          ctx.font = `6.6px "${FONT}"`;
          ctx.fillText(Y_LABEL, 0, 0);
          ctx.restore();
        }
        if (spec) {
          const bw = 57, bh = 9.5;
          const bx = a.right - 3 - bw, by = a.top + 4;
          const r = 1.5;
          ctx.beginPath();
          ctx.moveTo(bx + r, by);
          ctx.lineTo(bx + bw - r, by);
          ctx.quadraticCurveTo(bx + bw, by, bx + bw, by + r);
          ctx.lineTo(bx + bw, by + bh - r);
          ctx.quadraticCurveTo(bx + bw, by + bh, bx + bw - r, by + bh);
          ctx.lineTo(bx + r, by + bh);
          ctx.quadraticCurveTo(bx, by + bh, bx, by + bh - r);
          ctx.lineTo(bx, by + r);
          ctx.quadraticCurveTo(bx, by, bx + r, by);
          ctx.closePath();
          ctx.fillStyle = "rgba(40,42,58,0.85)";
          ctx.fill();
          ctx.strokeStyle = "rgba(200,200,210,0.55)";
          ctx.lineWidth = 0.8;
          ctx.stroke();
          ctx.strokeStyle = RED;
          ctx.lineWidth = 1;
          ctx.beginPath();
          ctx.moveTo(bx + 2, by + bh / 2);
          ctx.lineTo(bx + 12.5, by + bh / 2);
          ctx.stroke();
          ctx.fillStyle = TEXT;
          ctx.textAlign = "right";
          ctx.textBaseline = "middle";
          ctx.font = `${FS}px "${FONT}"`;
          ctx.fillText(`r2 = ${spec.r2}`, bx + bw - 1.8, by + bh / 2 + 0.3);
        }
        ctx.restore();
      },
    };

    const chart = new Chart(ref.current, {
      type: "line",
      data: { datasets },
      options: {
        animation: false,
        responsive: false,
        devicePixelRatio: 1,
        events: [],
        layout: { padding: { left: 0, top: PAD_T, right: empty ? 0 : PAD_R, bottom: 0 } },
        scales,
        plugins: { legend: { display: false }, tooltip: { enabled: false }, title: { display: false } },
      },
      plugins: [deco],
    } as any);
    return () => chart.destroy();
  }, [row, col]);

  return (
    <canvas
      ref={ref}
      width={CW}
      height={CH}
      style={{
        position: "absolute",
        left: PLOT_LEFT0 + col * COL_STEP - PAD_L,
        top: PLOT_TOP0 + row * ROW_STEP - PAD_T,
        width: CW,
        height: CH,
      }}
    />
  );
}

export default function App() {
  const cells: JSX.Element[] = [];
  for (let r = 0; r < EXCHANGES.length; r++) {
    for (let c = 0; c < PAIRS.length; c++) {
      cells.push(<Panel key={`${r}-${c}`} row={r} col={c} />);
    }
  }
  return (
    <div
      style={{
        position: "absolute",
        left: 0,
        top: 0,
        width: 1405,
        height: 1627,
        background: BG,
        overflow: "hidden",
      }}
    >
      {cells}
    </div>
  );
}
